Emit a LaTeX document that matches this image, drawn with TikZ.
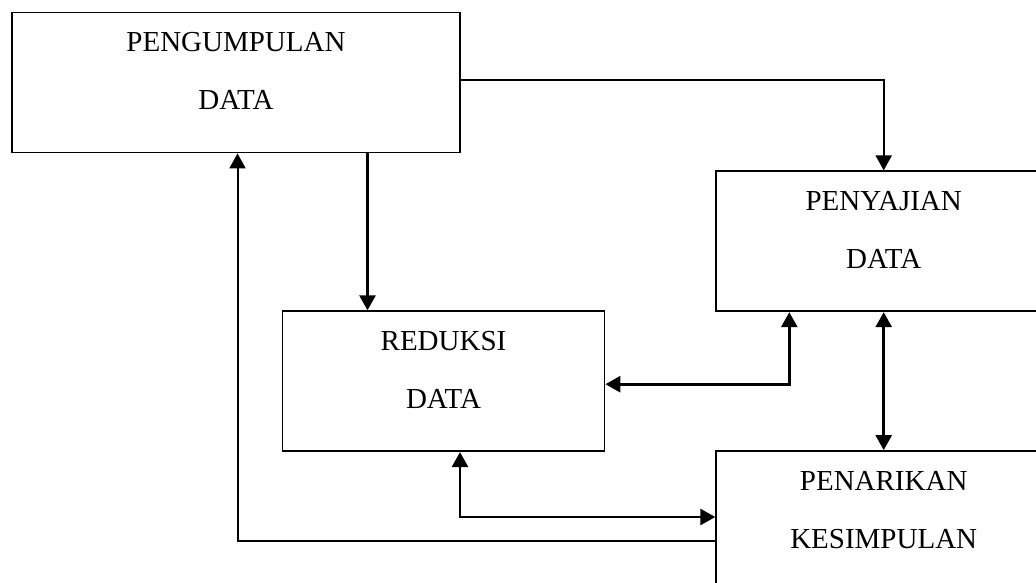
\documentclass[tikz,border=0pt]{standalone}
\usepackage{fontspec}
\setmainfont{Liberation Serif}
\usepackage{tikz}
\usetikzlibrary{arrows.meta, positioning, calc}

\begin{document}
\begin{tikzpicture}[x=1pt, y=-1pt,
        box/.style={draw, line width=1.8pt, rectangle, inner sep=0pt,
            minimum width=#1, minimum height=140pt, align=center,
            text height=78pt, text depth=24pt,
            font=\fontsize{29}{58}\selectfont},
        flow/.style={line width=2.8pt, -{Triangle[length=15pt, width=16pt]}},
        flowboth/.style={line width=2.8pt, {Triangle[length=15pt, width=16pt]}-{Triangle[length=15pt, width=16pt]}},
        thinflow/.style={line width=2pt, -{Triangle[length=15pt, width=16pt]}}]
        \useasboundingbox (0,0) rectangle (1036,583);
        \clip (0,0) rectangle (1036,583);

        % 四个方框
        \node[box=448pt] (pengumpulan) at (236, 82.5) {PENGUMPULAN\\DATA};
        \node[box=335pt] (penyajian) at (883.7, 241.3) {PENYAJIAN\\DATA};
        \node[box=322pt] (reduksi) at (443.5, 381.2) {REDUKSI\\DATA};
        \node[box=335pt] (penarikan) at (883.7, 521) {PENARIKAN\\KESIMPULAN};

        % 连线
        \coordinate (drop) at ([xshift=-76pt]reduksi.north);
        \draw[flow] (pengumpulan.south -| drop) -- (drop);
        \draw[thinflow] ([yshift=2.5pt]pengumpulan.east) -| (penyajian.north);
        \draw[flowboth] ([yshift=-3pt]reduksi.east) -| ([xshift=-94.4pt]penyajian.south);
        \draw[flowboth] (penyajian.south) -- (penarikan.north);
        \draw[flowboth] ([xshift=16.5pt]reduksi.south) |- ([yshift=4pt]penarikan.west);
        \draw[thinflow] ([yshift=-20pt]penarikan.west) -| ([xshift=1.5pt]pengumpulan.south);

    \end{tikzpicture}
\end{document}
